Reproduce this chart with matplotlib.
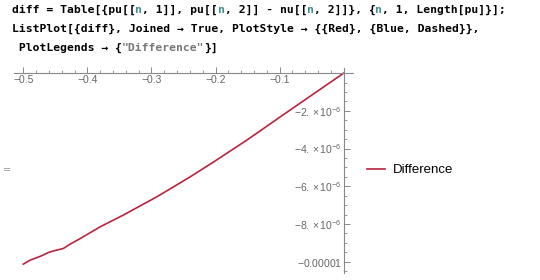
import matplotlib
matplotlib.use("Agg")
import matplotlib.pyplot as plt
from matplotlib.ticker import MultipleLocator, FixedLocator

plt.rcParams["mathtext.fontset"] = "custom"
plt.rcParams["mathtext.rm"] = "Liberation Sans"
plt.rcParams["mathtext.it"] = "Liberation Sans"

# difference data (y in units of 1e-6)
xs = [-0.5, -0.4895, -0.473, -0.4605, -0.453, -0.4375, -0.427, -0.411, -0.396,
      -0.380, -0.344, -0.2916, -0.2395, -0.203, -0.151, -0.099, 0.0]
ys = [-10.13, -9.92, -9.71, -9.51, -9.43, -9.30, -9.07, -8.77, -8.47,
      -8.15, -7.53, -6.56, -5.50, -4.71, -3.55, -2.32, 0.0]
ys = [v * 1e-6 for v in ys]

x_ticks = [-0.5, -0.4, -0.3, -0.2, -0.1]
x_labels = ["\u22120.5", "\u22120.4", "\u22120.3", "\u22120.2", "\u22120.1"]
y_ticks = [-2e-6, -4e-6, -6e-6, -8e-6, -1e-5]
y_labels = [r"$-2.\times10^{-6}$", r"$-4.\times10^{-6}$", r"$-6.\times10^{-6}$",
            r"$-8.\times10^{-6}$", r"$-0.00001$"]

code_lines = [
    [("diff = Table[{pu[[", "k"), ("n", "#3f8f8f"), (", 1]], pu[[", "k"), ("n", "#3f8f8f"),
     (", 2]] - nu[[", "k"), ("n", "#3f8f8f"), (", 2]]}, {", "k"), ("n", "#3f8f8f"),
     (", 1, Length[pu]}];", "k")],
    [("ListPlot[{diff}, Joined \u2192 True, PlotStyle \u2192 {{Red}, {Blue, Dashed}},", "k")],
    [(" PlotLegends \u2192 {", "k"), ("\"Difference\"", "#777777"), ("}]", "k")],
]

W, H = 540, 280
fig = plt.figure(figsize=(W / 100, H / 100), dpi=100)

# code cell text
fs = 8.2
cw = 0.602 * fs * 100 / 72
line_y = [10, 29, 48]
for runs, yy in zip(code_lines, line_y):
    x0 = 12
    for txt, col in runs:
        fig.text(x0 / W, 1 - yy / H, txt, family="DejaVu Sans Mono", weight="bold",
                 fontsize=fs, color=col, va="center", ha="left")
        x0 += len(txt) * cw

fig.text(3 / W, 1 - 170 / H, "=", fontsize=7, color="#999999", va="center")

ax = fig.add_axes([13.7 / W, 1 - 273 / H, 339.5 / W, 205 / H])
ax.plot(xs, ys, color="#b8243c", lw=1.2, label="Difference")
ax.set_xlim(-0.515, 0.0148)
ax.set_ylim(-10.6e-6, 0.27e-6)

for s in ["top", "right"]:
    ax.spines[s].set_visible(False)
ax.spines["left"].set_position(("data", 0))
ax.spines["bottom"].set_position(("data", 0))
for s in ["left", "bottom"]:
    ax.spines[s].set_color("#888888")
    ax.spines[s].set_linewidth(0.8)

ax.xaxis.set_major_locator(FixedLocator(x_ticks))
ax.set_xticklabels(x_labels)
ax.xaxis.set_minor_locator(MultipleLocator(0.02))
ax.yaxis.set_major_locator(FixedLocator(y_ticks))
ax.set_yticklabels(y_labels)
ax.yaxis.set_minor_locator(MultipleLocator(0.5e-6))

ax.tick_params(axis="both", which="major", direction="in", length=4, width=0.7,
               color="#888888", labelcolor="#666666", labelsize=7.5, pad=1.5)
ax.tick_params(axis="both", which="minor", direction="in", length=2.5, width=0.6,
               color="#888888")
for lab in ax.get_xticklabels():
    lab.set_family("Liberation Sans")
ax.patch.set_alpha(0)

leg = ax.legend(loc="center left", bbox_to_anchor=(355 / W, 1 - 170 / H),
                bbox_transform=fig.transFigure, frameon=False, handlelength=1.4,
                handletextpad=0.6, prop={"family": "Liberation Sans", "size": 9.5})

fig.savefig("out.png", dpi=100)
